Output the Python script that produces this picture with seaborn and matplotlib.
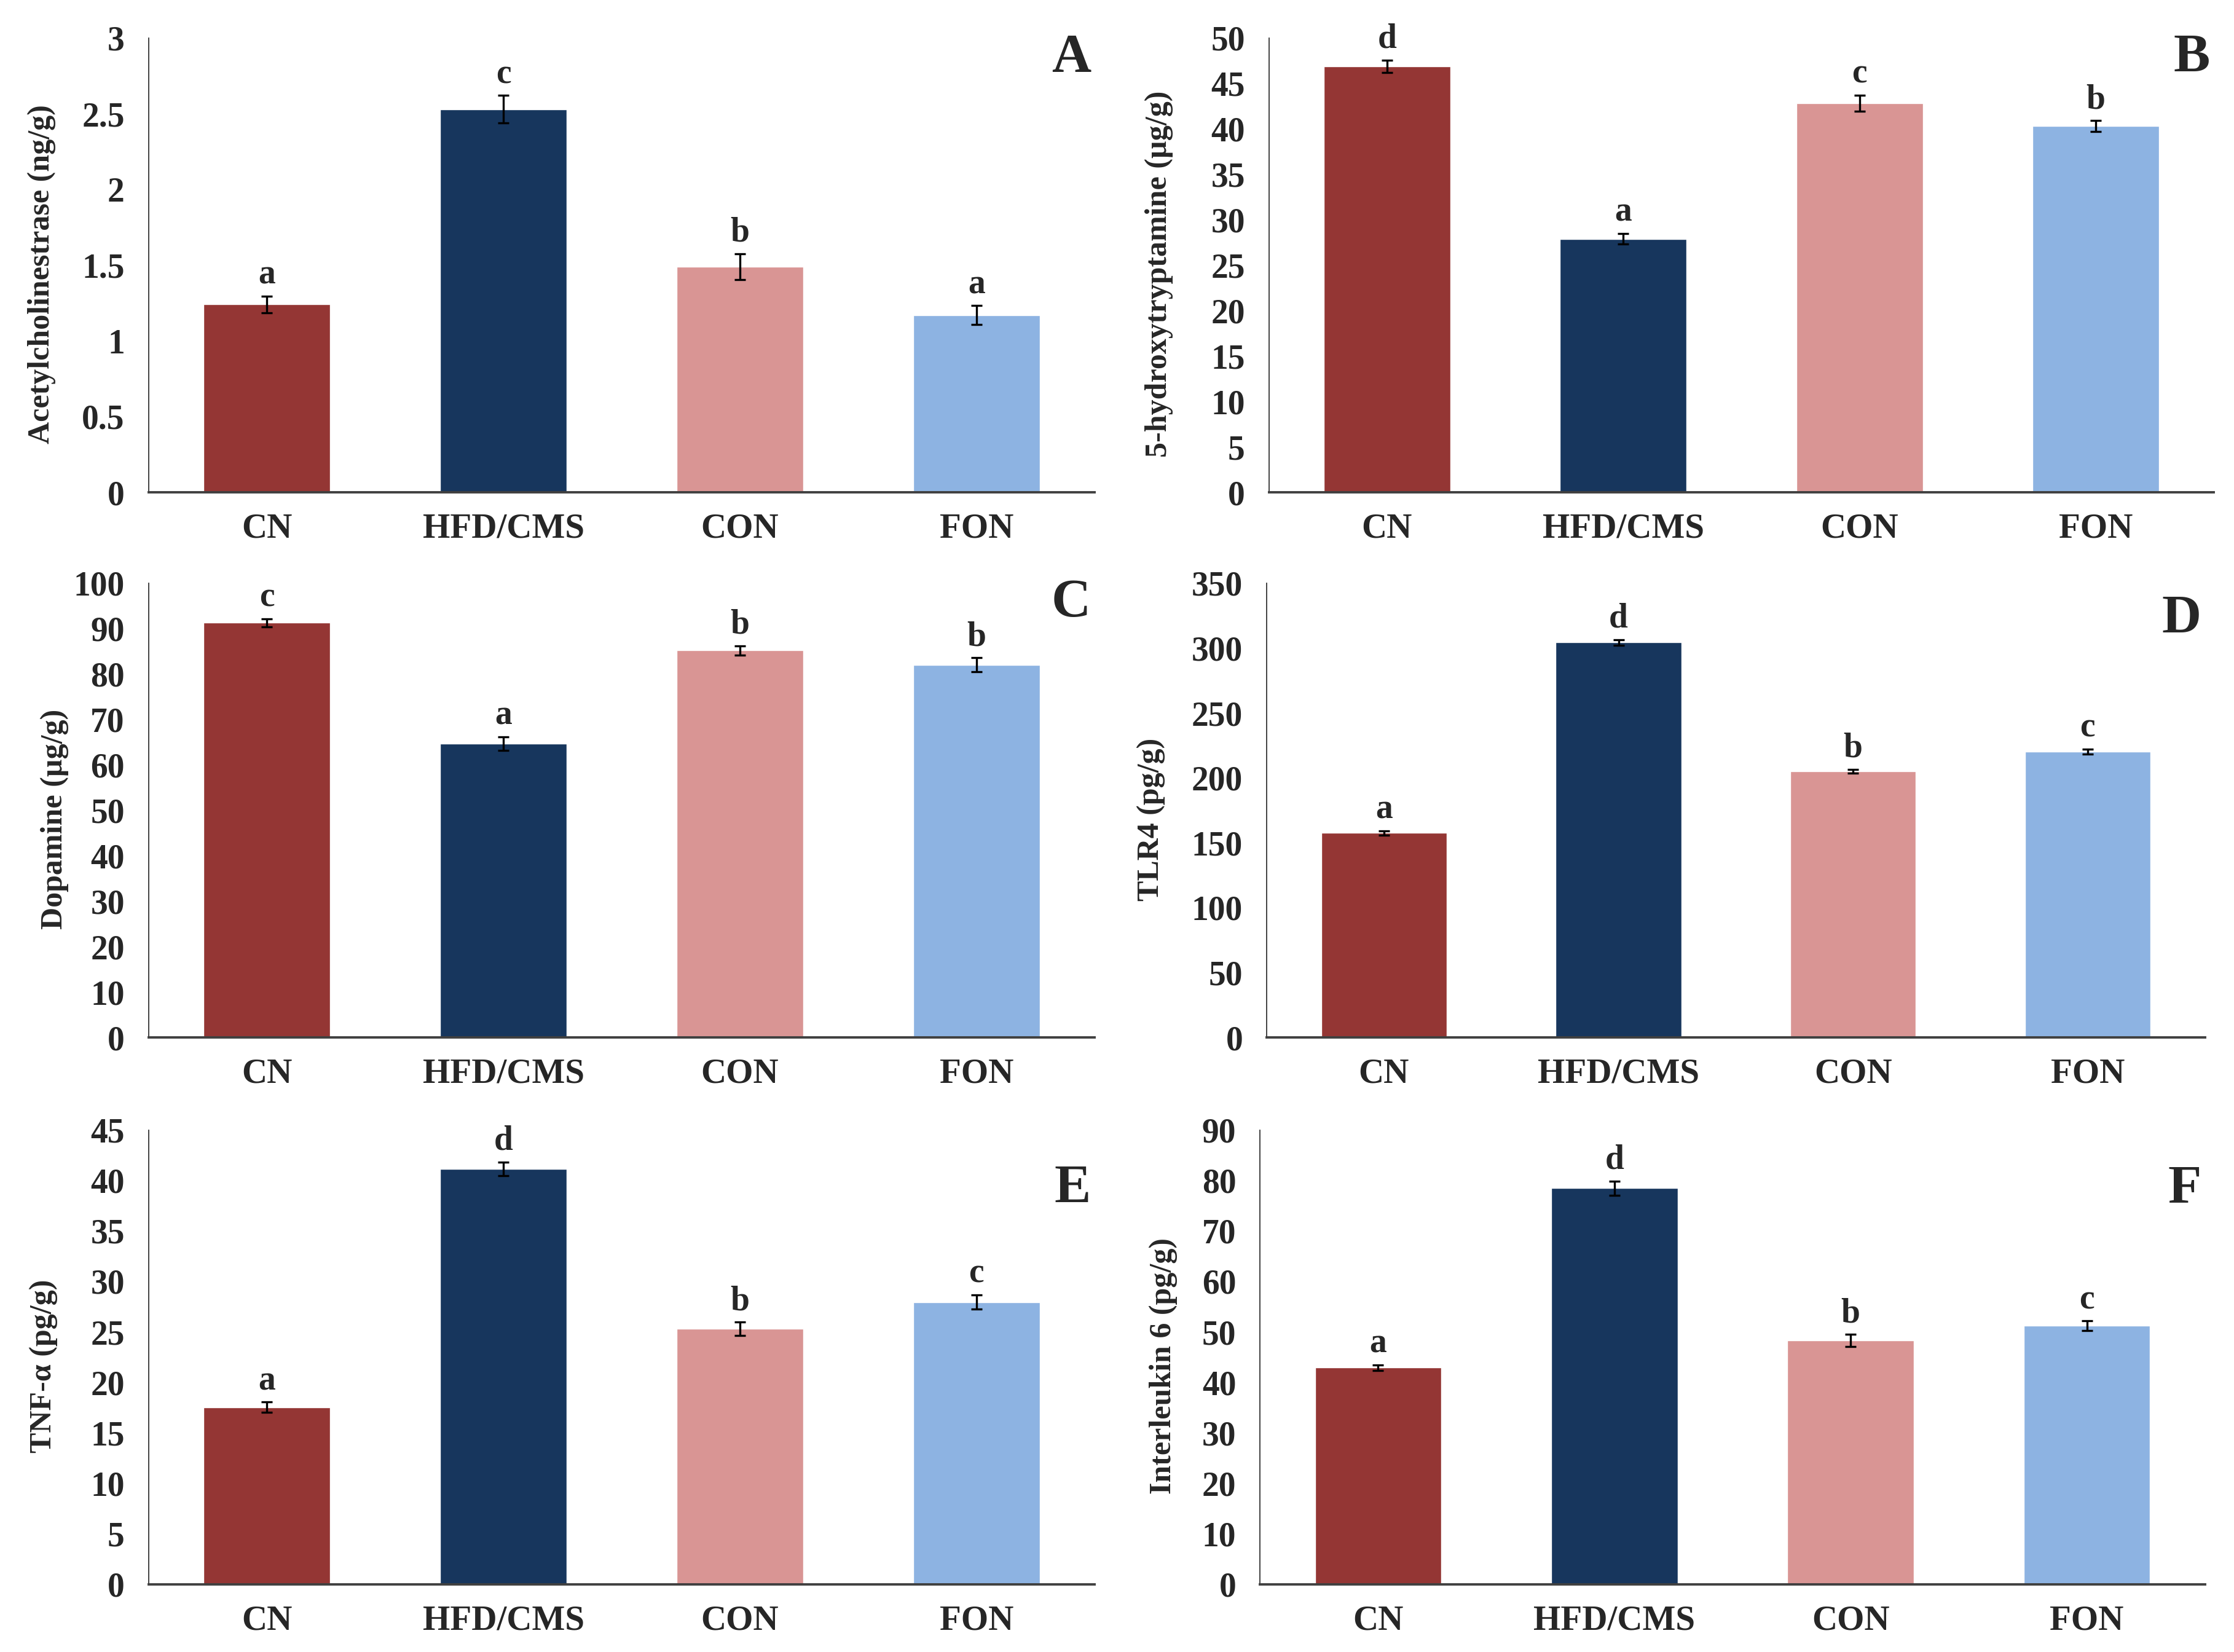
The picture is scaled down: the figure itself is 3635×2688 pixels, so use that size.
import pandas as pd
import matplotlib
matplotlib.use("Agg")
import matplotlib.pyplot as plt
import seaborn as sns

groups = ["CN", "HFD/CMS", "CON", "FON"]
colors = ["#943634", "#17365D", "#D99594", "#8DB3E2"]

# mean values and error
ache = [1.24, 2.53, 1.49, 1.17]
ache_err = [0.056, 0.09, 0.084, 0.062]
ache_sig = ["a", "c", "b", "a"]

sero = [46.9, 27.9, 42.8, 40.3]
sero_err = [0.68, 0.58, 0.88, 0.6]
sero_sig = ["d", "a", "c", "b"]

dopa = [91.3, 64.7, 85.2, 82.0]
dopa_err = [0.86, 1.5, 1.0, 1.56]
dopa_sig = ["c", "a", "b", "b"]

tlr4 = [157.5, 304.3, 205.1, 220.1]
tlr4_err = [1.6, 2.3, 1.6, 1.9]
tlr4_sig = ["a", "d", "b", "c"]

tnf = [17.54, 41.14, 25.3, 27.96]
tnf_err = [0.5, 0.67, 0.66, 0.71]
tnf_sig = ["a", "d", "b", "c"]

il6 = [42.9, 78.45, 48.3, 51.2]
il6_err = [0.6, 1.45, 1.17, 0.96]
il6_sig = ["a", "d", "b", "c"]

panels = [
    ("A", ache, ache_err, ache_sig, "Acetylcholinestrase (ng/g)", 3, 0.5),
    ("B", sero, sero_err, sero_sig, "5-hydroxytryptamine (\u00b5g/g)", 50, 5),
    ("C", dopa, dopa_err, dopa_sig, "Dopamine (\u00b5g/g)", 100, 10),
    ("D", tlr4, tlr4_err, tlr4_sig, "TLR4 (pg/g)", 350, 50),
    ("E", tnf, tnf_err, tnf_sig, "TNF-\u03b1 (pg/g)", 45, 5),
    ("F", il6, il6_err, il6_sig, "Interleukin 6 (pg/g)", 90, 10),
]

# axes rectangles [left, bottom, width, height]
rects = [
    [0.0665, 0.702, 0.4235, 0.275],
    [0.568, 0.702, 0.423, 0.275],
    [0.0665, 0.372, 0.4235, 0.275],
    [0.567, 0.372, 0.420, 0.275],
    [0.0665, 0.041, 0.4235, 0.275],
    [0.564, 0.041, 0.423, 0.275],
]
ylab_x = [-0.098, -0.101, -0.084, -0.108, -0.096, -0.087]
letter_y = [1.01, 1.01, 1.01, 0.975, 0.925, 0.925]

sns.set_style("white")
plt.rcParams["font.family"] = ["Liberation Serif", "DejaVu Serif"]
plt.rcParams["font.weight"] = "bold"

fig = plt.figure(figsize=(36.35, 26.88), dpi=100)

for i, (tag, vals, errs, sig, ylabel, ymax, step) in enumerate(panels):
    ax = fig.add_axes(rects[i])
    df = pd.DataFrame({"group": groups, "value": vals})
    sns.barplot(data=df, x="group", y="value", hue="group", palette=colors,
                legend=False, width=0.535, ax=ax, saturation=1)
    ax.errorbar(range(len(groups)), vals, yerr=errs, fmt="none",
                ecolor="black", elinewidth=2.4, capsize=6.5, capthick=2.4)
    for j, (v, e, s) in enumerate(zip(vals, errs, sig)):
        ax.annotate(s, (j, v + e), xytext=(0, 6), textcoords="offset points",
                    ha="center", va="bottom", fontsize=40, fontweight="bold")
    ax.set_ylim(0, ymax)
    ticks = [k * step for k in range(int(round(ymax / step)) + 1)]
    ax.set_yticks(ticks)
    ax.set_yticklabels([f"{t:g}" for t in ticks])
    ax.set_xlim(-0.5, 3.5)
    ax.set_xlabel("")
    ax.set_ylabel(ylabel, fontsize=36, fontweight="bold")
    ax.yaxis.set_label_coords(ylab_x[i], 0.48)
    ax.tick_params(axis="y", length=0, pad=28, labelsize=40)
    ax.tick_params(axis="x", length=0, pad=24, labelsize=41)
    for lab in ax.get_xticklabels() + ax.get_yticklabels():
        lab.set_fontweight("bold")
    sns.despine(ax=ax)
    ax.spines["left"].set_color("#333333")
    ax.spines["left"].set_linewidth(1.3)
    ax.spines["bottom"].set_color("#404040")
    ax.spines["bottom"].set_linewidth(2.8)
    ax.text(0.996, letter_y[i], tag, transform=ax.transAxes, ha="right",
            va="top", fontsize=64, fontweight="bold")

fig.savefig("out.png", dpi=100, facecolor="white")
